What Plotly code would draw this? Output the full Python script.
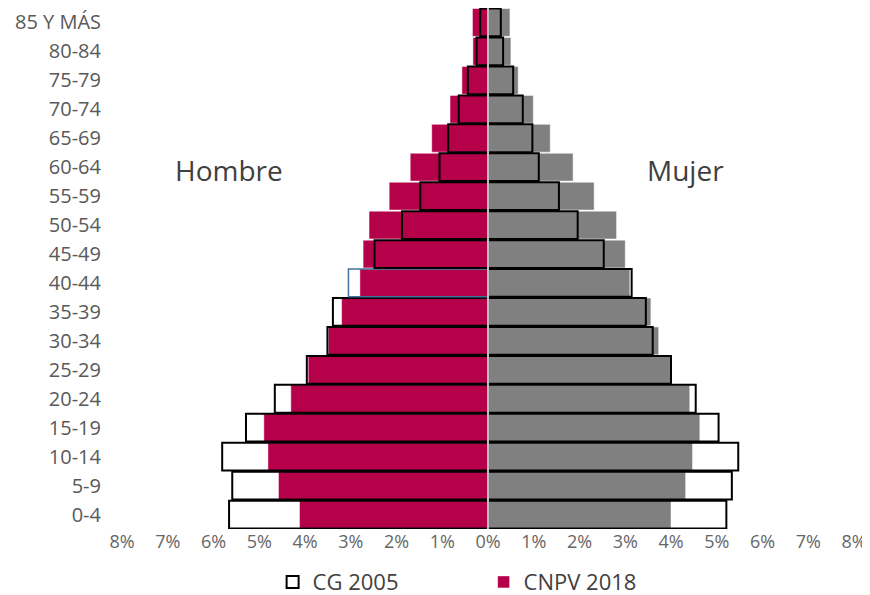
import plotly.graph_objects as go

age_groups = ["0-4", "5-9", "10-14", "15-19", "20-24", "25-29", "30-34", "35-39",
              "40-44", "45-49", "50-54", "55-59", "60-64", "65-69", "70-74",
              "75-79", "80-84", "85 Y MÁS"]

# Percent of total population
cnpv2018_hombre = [4.12, 4.58, 4.81, 4.90, 4.31, 3.93, 3.49, 3.20, 2.80, 2.73,
                   2.60, 2.16, 1.70, 1.23, 0.83, 0.57, 0.33, 0.34]
cnpv2018_mujer = [4.00, 4.32, 4.47, 4.63, 4.41, 3.99, 3.73, 3.56, 3.10, 3.00,
                  2.81, 2.32, 1.86, 1.36, 0.99, 0.66, 0.50, 0.48]
cg2005_hombre = [5.66, 5.59, 5.81, 5.29, 4.66, 3.96, 3.51, 3.39, 3.05, 2.48,
                 1.88, 1.48, 1.06, 0.87, 0.64, 0.44, 0.25, 0.17]
cg2005_mujer = [5.21, 5.33, 5.47, 5.04, 4.54, 4.00, 3.60, 3.45, 3.14, 2.53,
                1.96, 1.55, 1.11, 0.97, 0.76, 0.55, 0.33, 0.28]

tick_vals = [-8, -7, -6, -5, -4, -3, -2, -1, 0, 1, 2, 3, 4, 5, 6, 7, 8]
tick_text = ["8%", "7%", "6%", "5%", "4%", "3%", "2%", "1%", "0%",
             "1%", "2%", "3%", "4%", "5%", "6%", "7%", "8%"]

CRIMSON = "#B5004A"
GRAY = "#808080"

# outline styling of CG 2005 male bars (the 40-44 bar is outlined in blue in the original)
cg_h_line_colors = ["#41719C" if g == "40-44" else "black" for g in age_groups]
cg_h_line_widths = [1.5 if g == "40-44" else 2 for g in age_groups]

fig = go.Figure()

fig.add_trace(go.Bar(
    y=age_groups, x=[-v for v in cnpv2018_hombre], orientation="h",
    name="CNPV 2018", legendgroup="cnpv", legendrank=2,
    marker=dict(color=CRIMSON, line=dict(color="rgba(255,255,255,0.6)", width=0.8)),
    customdata=cnpv2018_hombre,
    hovertemplate="Hombre %{y}: %{customdata:.2f}%<extra>CNPV 2018</extra>",
))
fig.add_trace(go.Bar(
    y=age_groups, x=cnpv2018_mujer, orientation="h",
    name="CNPV 2018", legendgroup="cnpv", showlegend=False,
    marker=dict(color=GRAY, line=dict(color="rgba(255,255,255,0.6)", width=0.8)),
    hovertemplate="Mujer %{y}: %{x:.2f}%<extra>CNPV 2018</extra>",
))
fig.add_trace(go.Bar(
    y=age_groups, x=[-v for v in cg2005_hombre], orientation="h",
    name="CG 2005", legendgroup="cg", legendrank=1,
    marker=dict(color="rgba(255,255,255,0)",
                line=dict(color=cg_h_line_colors, width=cg_h_line_widths)),
    customdata=cg2005_hombre,
    hovertemplate="Hombre %{y}: %{customdata:.2f}%<extra>CG 2005</extra>",
))
fig.add_trace(go.Bar(
    y=age_groups, x=cg2005_mujer, orientation="h",
    name="CG 2005", legendgroup="cg", showlegend=False,
    marker=dict(color="rgba(255,255,255,0)", line=dict(color="black", width=2)),
    hovertemplate="Mujer %{y}: %{x:.2f}%<extra>CG 2005</extra>",
))

# The page adds an 8px body margin, so the figure is sized to fit the window
fig.update_layout(
    width=862, height=587,
    margin=dict(l=114, r=16, t=0, b=66, autoexpand=False),
    paper_bgcolor="white", plot_bgcolor="white",
    barmode="overlay", bargap=0.04,
    font=dict(family="Open Sans, Noto Sans, sans-serif", color="#595959", size=17),
    showlegend=True,
    legend=dict(orientation="h", x=0.494, xanchor="center",
                yref="container", y=0.022, yanchor="middle",
                font=dict(size=22, color="#404040"), traceorder="normal",
                itemwidth=30, tracegroupgap=0, entrywidth=166),
    xaxis=dict(range=[-8, 8], tickvals=tick_vals, ticktext=tick_text,
               showgrid=False, zeroline=False, automargin=False,
               showline=False, ticks="", fixedrange=True,
               tickfont=dict(size=18, color="#666666")),
    yaxis=dict(categoryorder="array", categoryarray=age_groups, range=[-0.5, 17.5],
               showgrid=False, showline=False, ticks="", ticklabelstandoff=20,
               automargin=False,
               tickfont=dict(size=20, color="#595959"), fixedrange=True),
    shapes=[dict(type="line", xref="x", yref="paper", x0=0, x1=0, y0=0, y1=1,
                 line=dict(color="#bfbfbf", width=2), layer="above")],
    annotations=[
        dict(text="Hombre", x=-5.66, y=11.9, xref="x", yref="y", showarrow=False,
             font=dict(size=28, color="#404040")),
        dict(text="Mujer", x=4.31, y=11.9, xref="x", yref="y", showarrow=False,
             font=dict(size=28, color="#404040")),
    ],
)

fig.write_html("out.html")
